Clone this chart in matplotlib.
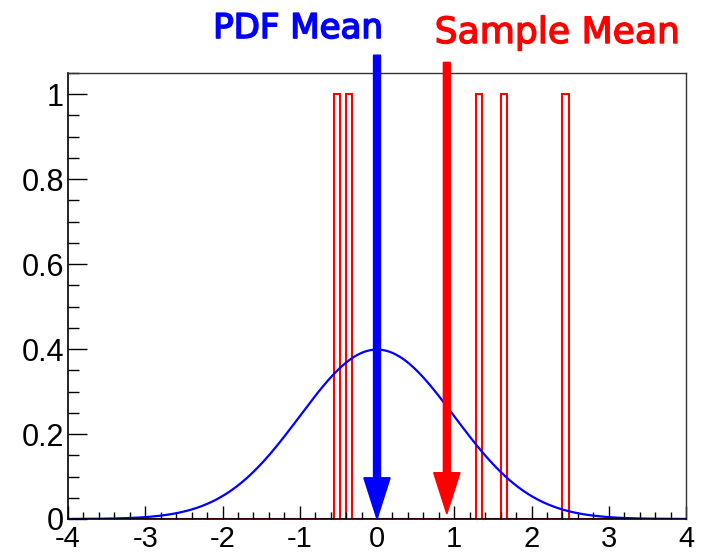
import numpy as np
import matplotlib
matplotlib.use("Agg")
import matplotlib.pyplot as plt
import matplotlib.patheffects as pe
from matplotlib.ticker import MultipleLocator

plt.rcParams['axes.unicode_minus'] = False
plt.rcParams['font.family'] = ['Liberation Sans', 'DejaVu Sans']

# data
samples = [-0.52, -0.36, 1.32, 1.64, 2.44]
n_bins = 100
x_range = (-4.0, 4.0)
pdf_mean = 0.0
pdf_sigma = 1.0
x_ticks = [-4, -3, -2, -1, 0, 1, 2, 3, 4]
x_tick_labels = ["-4", "-3", "-2", "-1", "0", "1", "2", "3", "4"]
y_ticks = [0, 0.2, 0.4, 0.6, 0.8, 1.0]
y_tick_labels = ["0", "0.2", "0.4", "0.6", "0.8", "1"]

fig = plt.figure(figsize=(7.04, 5.54), dpi=100)
ax = fig.add_axes([68/704, 35/554, 618/704, 446/554])

counts, edges = np.histogram(samples, bins=n_bins, range=x_range)
ax.stairs(counts, edges, color='red', linewidth=1.5, fill=False, baseline=0)

xs = np.linspace(x_range[0], x_range[1], 800)
pdf = np.exp(-0.5 * ((xs - pdf_mean) / pdf_sigma) ** 2) / (pdf_sigma * np.sqrt(2 * np.pi))
ax.plot(xs, pdf, color='blue', linewidth=1.6)

ax.set_xlim(*x_range)
ax.set_ylim(0, 1.05)

ax.set_xticks(x_ticks)
ax.set_xticklabels(x_tick_labels)
ax.set_yticks(y_ticks)
ax.set_yticklabels(y_tick_labels)
ax.xaxis.set_minor_locator(MultipleLocator(0.2))
ax.yaxis.set_minor_locator(MultipleLocator(0.05))
ax.tick_params(axis='x', which='major', direction='in', length=9.5, width=1, labelsize=21, pad=4, top=False)
ax.tick_params(axis='x', which='minor', direction='in', length=5, width=1, top=False)
ax.tick_params(axis='y', which='major', direction='in', length=13.7, width=1, labelsize=22, pad=3, right=False)
ax.tick_params(axis='y', which='minor', direction='in', length=8, width=1, right=False)
for s in ['left', 'bottom']:
    ax.spines[s].set_linewidth(1.2)
for s in ['top', 'right']:
    ax.spines[s].set_linewidth(1.0)
    ax.spines[s].set_color('#333333')

sample_mean = float(np.mean(samples))

# arrows
ax.arrow(pdf_mean, 1.092, 0, -1.092, width=0.09, head_width=0.34, head_length=0.097,
         length_includes_head=True, color='blue', clip_on=False, zorder=5)
ax.arrow(sample_mean, 1.075, 0, -(1.075 - 0.012), width=0.09, head_width=0.34, head_length=0.097,
         length_includes_head=True, color='red', clip_on=False, zorder=5)

fig.text(298/704, 1 - 38/554, "PDF Mean", color='blue', fontsize=24.5,
         ha='center', va='baseline', family=['DejaVu Sans'],
         path_effects=[pe.withStroke(linewidth=1.2, foreground='blue')])
fig.text(557/704, 1 - 43/554, "Sample Mean", color='red', fontsize=26,
         ha='center', va='baseline', family=['DejaVu Sans'],
         path_effects=[pe.withStroke(linewidth=1.0, foreground='red')])

fig.savefig("out.png", dpi=100)
